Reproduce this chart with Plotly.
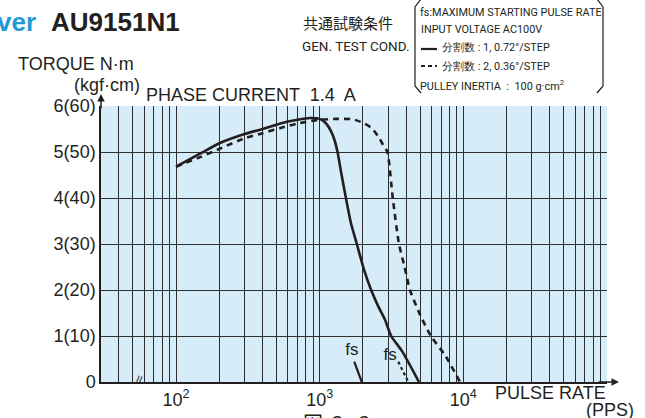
import plotly.graph_objects as go

# ---------------- data ----------------
# pulse rate (pps) and torque (N·m)
solid_x = [100, 150, 204, 300, 400, 532, 700, 850, 1000, 1100, 1200, 1270, 1330, 1420,
           1521, 1650, 1812, 2030, 2280, 2550, 2852, 3141, 3741, 4909]
solid_y = [4.68, 4.98, 5.20, 5.39, 5.50, 5.62, 5.70, 5.74, 5.72, 5.63, 5.45, 5.25, 5.00, 4.50,
           4.00, 3.45, 3.00, 2.45, 2.00, 1.65, 1.35, 1.00, 0.67, 0.0]

dashed_x = [100, 150, 204, 300, 400, 532, 700, 1000, 1300, 1700, 2015, 2300, 2600, 2800,
            2958, 3224, 3563, 3900, 4250, 5000, 5940, 7500, 9470]
dashed_y = [4.68, 4.90, 5.08, 5.30, 5.41, 5.52, 5.62, 5.70, 5.72, 5.71, 5.63, 5.52, 5.30, 5.12,
            5.00, 4.00, 3.00, 2.50, 2.00, 1.46, 1.00, 0.57, 0.0]

# fs (maximum starting pulse rate) marker segments
fs_solid_x = [1738, 1963]
fs_solid_y = [0.44, 0.0]
fs_dashed_x = [3524, 4140]
fs_dashed_y = [0.44, 0.0]
fs_label_x = [1675, 3090]
fs_label_y = [0.67, 0.57]

y_tickvals = [0, 1, 2, 3, 4, 5, 6]
y_ticktext = ["0", "1(10)", "2(20)", "3(30)", "4(40)", "5(50)", "6(60)"]

x_grid = ([m * 10 for m in range(3, 10)] + [m * 100 for m in range(1, 10)] +
          [m * 1000 for m in range(1, 10)] + [m * 10000 for m in range(1, 11)])
x_labels = {100: "10<sup>2</sup>", 1000: "10<sup>3</sup>", 10000: "10<sup>4</sup>"}
x_ticktext = [x_labels.get(v, "") for v in x_grid]

# ---------------- layout geometry ----------------
W, H = 645, 418
L, R, T, B = 101, 38, 106, 36
PW, PH = W - L - R, H - T - B


def px(x):
    return (x - L) / PW


def py(y):
    return (H - B - y) / PH


INK = "#231f20"
FONT = "Liberation Sans, Arial, sans-serif"
NARROW = "Roboto, Liberation Sans, sans-serif"
CJK = "Noto Sans CJK JP, sans-serif"

fig = go.Figure()
fig.add_trace(go.Scatter(x=solid_x, y=solid_y, mode="lines",
                         line=dict(color=INK, width=2.6, shape="spline", smoothing=0.6),
                         hoverinfo="skip", showlegend=False))
fig.add_trace(go.Scatter(x=dashed_x, y=dashed_y, mode="lines",
                         line=dict(color=INK, width=2.6, dash="6px,5px", shape="spline", smoothing=0.6),
                         hoverinfo="skip", showlegend=False))
fig.add_trace(go.Scatter(x=fs_solid_x, y=fs_solid_y, mode="lines",
                         line=dict(color=INK, width=2.2), hoverinfo="skip", showlegend=False))
fig.add_trace(go.Scatter(x=fs_dashed_x, y=fs_dashed_y, mode="lines",
                         line=dict(color=INK, width=2.2, dash="3px,3px"), hoverinfo="skip", showlegend=False))
fig.add_trace(go.Scatter(x=fs_label_x, y=fs_label_y, mode="text", text=["fs", "fs"],
                         textfont=dict(family=FONT, size=17, color=INK),
                         hoverinfo="skip", showlegend=False))

fig.update_xaxes(type="log", range=[1.4771, 5], tickvals=x_grid, ticktext=x_ticktext,
                 showgrid=True, gridcolor="#2e2e2e", gridwidth=1, automargin=False,
                 showline=True, linecolor=INK, linewidth=2, ticks="",
                 tickfont=dict(family=FONT, size=18, color=INK), zeroline=False)
fig.update_yaxes(range=[0, 6], tickvals=y_tickvals, ticktext=y_ticktext,
                 showgrid=True, gridcolor="#2e2e2e", gridwidth=1, automargin=False,
                 showline=True, linecolor=INK, linewidth=1.5, ticks="",
                 tickfont=dict(family=FONT, size=18, color=INK), zeroline=False)

ann = []


def text(s, x, y, size=18, family=FONT, xanchor="left", yanchor="middle", color=INK, **kw):
    ann.append(dict(text=s, x=px(x), y=py(y), xref="paper", yref="paper",
                    xanchor=xanchor, yanchor=yanchor, showarrow=False,
                    font=dict(family=family, size=size, color=color), **kw))


# title
text("<b>Driver</b>", 38, 22, size=26, xanchor="right", color="#1f9ad6")
text("<b>AU9151N1</b>", 49, 22, size=26)
# axis titles
text("TORQUE N·m", 16, 64, size=18)
text("(kgf·cm)", 72, 85, size=18)
text("PHASE CURRENT  1.4  A", 144, 95, size=18)
text("PULSE RATE", 493, 393, size=18)
text("(PPS)", 584, 410, size=18)
text("図  3 - 3", 301, 422, size=20, family=CJK)
# test conditions
text("共通試験条件", 301, 22, size=15, family=CJK)
text("GEN. TEST COND.", 300, 46, size=13.5, family=NARROW)
text("fs:MAXIMUM STARTING PULSE RATE", 418, 12, size=10.9, family=NARROW)
text("INPUT VOLTAGE AC100V", 419, 29, size=10.9, family=NARROW)
text("分割数 : 1, 0.72°/STEP", 440, 48, size=10.9, family=NARROW)
text("分割数 : 2, 0.36°/STEP", 440, 66, size=10.9, family=NARROW)
text("PULLEY INERTIA  :  100 g·cm<sup>2</sup>", 418, 85, size=10.9, family=NARROW)
# axis break mark
text("≈", 139, 379, size=14, xanchor="center", textangle=-75)

# axis arrows
ann.append(dict(x=px(619), y=py(382), xref="paper", yref="paper", ax=-22, ay=0,
                showarrow=True, arrowhead=2, arrowsize=1, arrowwidth=1.5, arrowcolor=INK, text=""))
ann.append(dict(x=px(101), y=py(94), xref="paper", yref="paper", ax=0, ay=16,
                showarrow=True, arrowhead=2, arrowsize=1, arrowwidth=1.5, arrowcolor=INK, text=""))

shapes = []


def pth(points):
    return "M " + " L ".join(f"{px(a)},{py(b)}" for a, b in points)


# bracket box of the conditions
shapes.append(dict(type="path", xref="paper", yref="paper",
                   path=pth([(421, -1), (415, 7), (415, 86), (421, 93)]),
                   line=dict(color=INK, width=1.2)))
shapes.append(dict(type="path", xref="paper", yref="paper",
                   path=pth([(597, -1), (603, 7), (603, 86), (597, 93)]),
                   line=dict(color=INK, width=1.2)))
# legend samples
shapes.append(dict(type="line", xref="paper", yref="paper", x0=px(421), x1=px(437), y0=py(49), y1=py(49),
                   line=dict(color=INK, width=2.2)))
shapes.append(dict(type="line", xref="paper", yref="paper", x0=px(421), x1=px(437), y0=py(66), y1=py(66),
                   line=dict(color=INK, width=2.2, dash="4px,3px")))

fig.update_layout(width=W, height=H, margin=dict(l=L, r=R, t=T, b=B),
                  paper_bgcolor="white", plot_bgcolor="#d6ecf8",
                  annotations=ann, shapes=shapes, showlegend=False)

fig.write_html("out.html", config={"displayModeBar": False},
               post_script="document.body.style.margin='0';document.body.style.overflow='hidden';")
